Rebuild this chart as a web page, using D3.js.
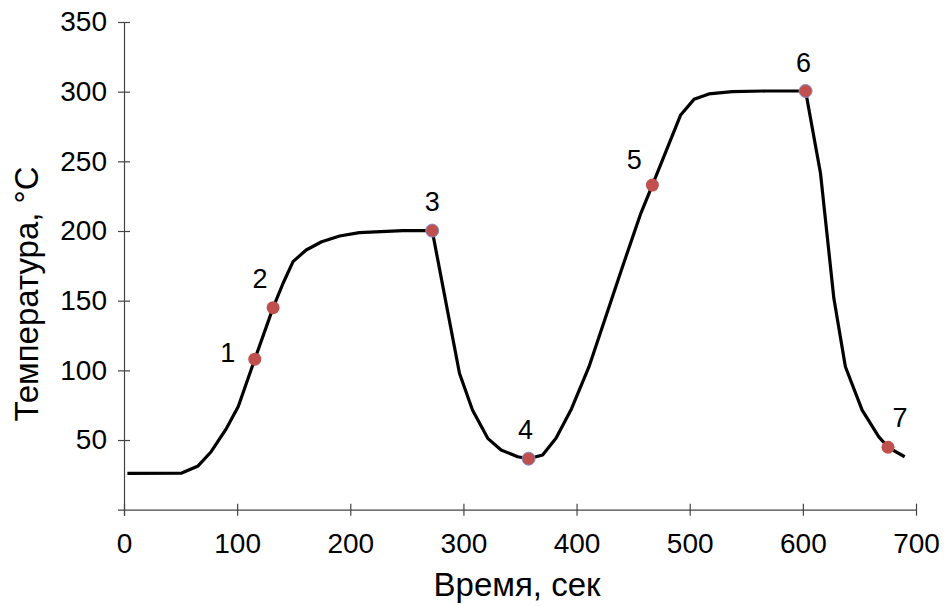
<!DOCTYPE html>
<head>
  <meta charset="utf-8">
  <title>Температура</title>
  <script src="https://cdn.jsdelivr.net/npm/d3@7/dist/d3.min.js"></script>
  <style>
    body { margin: 0; background: #fff; }
    text { font-family: "Liberation Sans", Arial, sans-serif; fill: #000; }
  </style>
</head>
<body>
<div id="chart"></div>
<script>
// time, s / temperature, °C
const times = [3, 51, 65.5, 77, 90.6, 101, 115.6, 131.8, 140.6, 149.4, 161, 174.7, 190.6, 208, 246.5, 272.4,
  296.5, 308, 321.5, 333.3, 348, 357.6, 370, 381.8, 395, 411, 440.6, 456.8, 467, 492, 503.8, 517, 537.6,
  567, 602.4, 615.6, 627.4, 637.6, 652.4, 667, 675.3, 690];
const temps = [26, 26.3, 31.4, 41.6, 58.4, 74, 108, 145, 162.5, 178, 186.4, 192.3, 196.4, 198.8, 200.3, 200.3,
  97.9, 71.5, 51.2, 42.8, 38, 36.6, 39.3, 51.2, 71.5, 102.6, 174.4, 212.7, 233, 283.3, 294.5, 298.4, 300,
  300.5, 300.5, 241.4, 151.7, 102.6, 71.5, 52.4, 44.8, 38];

// numbered points
const pointLabels = ['1', '2', '3', '4', '5', '6', '7'];
const pointTimes = [115.6, 131.8, 272.4, 357.6, 467, 602.4, 675.3];
const pointTemps = [108, 145, 200.3, 36.6, 233, 300.5, 44.8];

const xTicks = [0, 100, 200, 300, 400, 500, 600, 700];
const yTicks = [50, 100, 150, 200, 250, 300, 350];

// label placement relative to its point (px)
const labelShift = [[-27, -6], [-13, -29], [0, -29], [-3, -29], [-18, -25], [-2, -28], [12, -29]];
const outlined = [false, false, true, true, false, true, false];

const width = 944, height = 606;
const margin = { left: 124, right: 28, top: 22, bottom: 96 };

const svg = d3.select('#chart').append('svg')
  .attr('width', width)
  .attr('height', height);

const x = d3.scaleLinear().domain([0, 700]).range([margin.left, width - margin.right]);
const y = d3.scaleLinear().domain([0, 350]).range([height - margin.bottom - 0.3, margin.top]);

// axes
const xAxis = svg.append('g')
  .attr('transform', `translate(0,${y(0)})`)
  .call(d3.axisBottom(x).tickValues(xTicks).tickSizeInner(6).tickSizeOuter(0).tickPadding(17));
xAxis.select('.domain').attr('d', `M${x(0) - 6},0.5H${x(700)}`);

const yAxis = svg.append('g')
  .attr('transform', `translate(${x(0)},0)`)
  .call(d3.axisLeft(y).tickValues(yTicks).tickSizeInner(6).tickSizeOuter(0).tickPadding(11));
yAxis.select('.domain').attr('d', `M0.5,${y(350)}V${y(0) + 6}`);

// ticks cross the axis line
xAxis.selectAll('.tick line').attr('y1', -6).attr('y2', 6);
yAxis.selectAll('.tick line').attr('x1', -6).attr('x2', 6);

svg.selectAll('.domain, .tick line').attr('stroke', '#444').attr('stroke-width', 1.2);
svg.selectAll('.tick text')
  .style('font-family', '"Liberation Sans", Arial, sans-serif')
  .style('font-size', '28px')
  .attr('fill', '#000');

// axis titles
svg.append('text')
  .attr('x', 517)
  .attr('y', 596)
  .attr('text-anchor', 'middle')
  .style('font-size', '33px')
  .text('Время, сек');

svg.append('text')
  .attr('transform', 'translate(38,294) rotate(-90)')
  .attr('text-anchor', 'middle')
  .style('font-size', '33px')
  .text('Температура, °C');

// curve
const series = times.map((t, i) => ({ t: t, v: temps[i] }));
const line = d3.line().x(d => x(d.t)).y(d => y(d.v));

svg.append('path')
  .datum(series)
  .attr('d', line)
  .attr('fill', 'none')
  .attr('stroke', '#000')
  .attr('stroke-width', 3.2)
  .attr('stroke-linejoin', 'round');

// points + numbers
const pts = pointLabels.map((l, i) => ({ label: l, t: pointTimes[i], v: pointTemps[i], dx: labelShift[i][0], dy: labelShift[i][1], ring: outlined[i] }));

svg.selectAll('.pt')
  .data(pts)
  .enter()
  .append('circle')
  .attr('class', 'pt')
  .attr('cx', d => x(d.t))
  .attr('cy', d => y(d.v))
  .attr('r', 6.5)
  .attr('fill', '#C0504D')
  .attr('stroke', d => d.ring ? '#7F8FC8' : 'none')
  .attr('stroke-width', 1);

svg.selectAll('.pt-label')
  .data(pts)
  .enter()
  .append('text')
  .attr('class', 'pt-label')
  .attr('x', d => x(d.t) + d.dx)
  .attr('y', d => y(d.v) + d.dy)
  .attr('text-anchor', 'middle')
  .attr('dominant-baseline', 'central')
  .style('font-size', '27px')
  .text(d => d.label);
</script>
</body>
